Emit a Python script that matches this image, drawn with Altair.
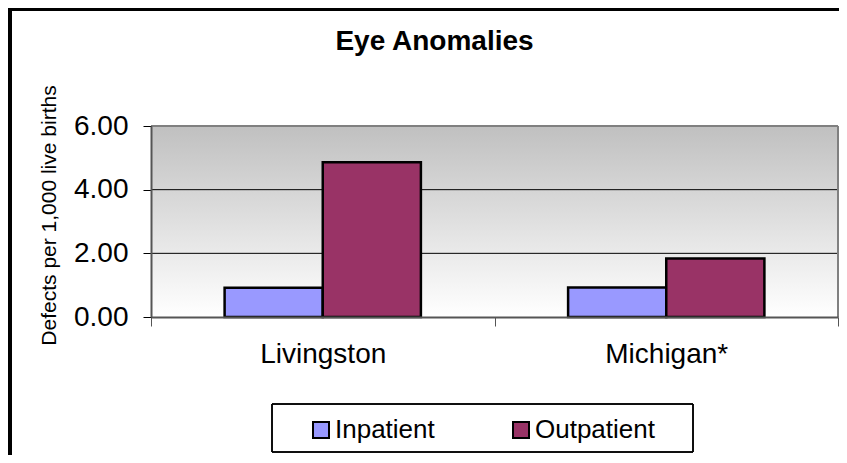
import altair as alt
import pandas as pd

regions = ["Livingston", "Michigan*"]
series = ["Inpatient", "Outpatient"]
inpatient = [0.92, 0.93]
outpatient = [4.86, 1.84]
y_ticks = [0, 2, 4, 6]
grid_values = [2, 4]
colors = ["#9999FF", "#993366"]

rows = []
for i, r in enumerate(regions):
    rows.append({"Region": r, "Type": series[0], "Value": inpatient[i]})
    rows.append({"Region": r, "Type": series[1], "Value": outpatient[i]})
df = pd.DataFrame(rows)
grid_df = pd.DataFrame({"g": grid_values})

W, H = 687, 191
FONT = "Liberation Sans"

yscale = alt.Scale(domain=[0, 6], nice=False)

background = alt.Chart(df).mark_rect(
    fill=alt.Gradient(
        gradient="linear",
        stops=[alt.GradientStop(color="#C0C0C0", offset=0),
               alt.GradientStop(color="#FFFFFF", offset=1)],
        x1=0, x2=0, y1=0, y2=1,
    )
).encode(x=alt.value(0), x2=alt.value(W), y=alt.value(0), y2=alt.value(H))

grid = alt.Chart(grid_df).mark_rule(color="#000000", strokeWidth=1).encode(
    y=alt.Y("g:Q", scale=yscale)
)

top_border = alt.Chart(df).mark_rule(color="#808080", strokeWidth=2).encode(
    x=alt.value(0), x2=alt.value(W), y=alt.value(0)
)
right_border = alt.Chart(df).mark_rule(color="#808080", strokeWidth=2).encode(
    x=alt.value(W), y=alt.value(0), y2=alt.value(H)
)

bars = alt.Chart(df).mark_bar(stroke="#000000", strokeWidth=2.5, opacity=1).encode(
    x=alt.X("Region:N", sort=regions,
            scale=alt.Scale(paddingInner=0, paddingOuter=0),
            axis=alt.Axis(title=None, labelAngle=0, labelFontSize=28, labelFont=FONT,
                          labelColor="#000000", labelPadding=14, tickBand="extent",
                          tickSize=9, tickColor="#555555", tickWidth=1,
                          domainColor="#555555", domainWidth=2, zindex=1)),
    xOffset=alt.XOffset("Type:N", sort=series,
                        scale=alt.Scale(paddingOuter=0.75, paddingInner=0)),
    y=alt.Y("Value:Q", scale=yscale,
            axis=alt.Axis(values=y_ticks, format=".2f", title="Defects per 1,000 live births",
                          titleFontSize=21, titleFont=FONT, titleFontWeight="normal",
                          titleColor="#000000", titleX=-102, titleY=89, titleAngle=270,
                          titleBaseline="middle", titleAlign="center",
                          labelFontSize=28, labelFont=FONT, labelColor="#000000",
                          labelPadding=15, tickSize=8, tickColor="#000000",
                          domainColor="#555555", domainWidth=2, grid=False, zindex=1)),
    color=alt.Color("Type:N", sort=series,
                    scale=alt.Scale(domain=series, range=colors),
                    legend=alt.Legend(title=None, orient="none", legendX=157, legendY=291,
                                      direction="horizontal", columns=2, columnPadding=73,
                                      labelFontSize=26, labelFont=FONT, labelColor="#000000",
                                      symbolType="square", symbolSize=256,
                                      symbolStrokeColor="#000000", symbolStrokeWidth=2,
                                      symbolOpacity=1, labelOffset=1, padding=0)),
)

legend_box = alt.Chart(df).mark_rect(fillOpacity=0, stroke="#000000", strokeWidth=1).encode(
    x=alt.value(121), x2=alt.value(542), y=alt.value(278), y2=alt.value(326)
)

outer_left = alt.Chart(df).mark_rule(color="#000000", strokeWidth=4).encode(
    x=alt.value(-141), y=alt.value(-118), y2=alt.value(340)
)
outer_top = alt.Chart(df).mark_rule(color="#000000", strokeWidth=3).encode(
    x=alt.value(-145), x2=alt.value(700), y=alt.value(-116.5)
)

chart = alt.layer(
    background, grid, top_border, right_border, bars, legend_box, outer_left, outer_top
).properties(
    width=W, height=H,
    title=alt.TitleParams("Eye Anomalies", fontSize=28, font=FONT, fontWeight="bold",
                          color="#000000", anchor="middle", dx=-60, offset=0,
                          baseline="alphabetic", dy=72),
    padding={"left": 143, "top": 118, "right": 1, "bottom": 138},
    autosize=alt.AutoSizeParams(type="none"),
).configure_view(stroke=None).configure(background="#FFFFFF")

chart.save("out.html", embed_options={"renderer": "svg", "actions": False})
